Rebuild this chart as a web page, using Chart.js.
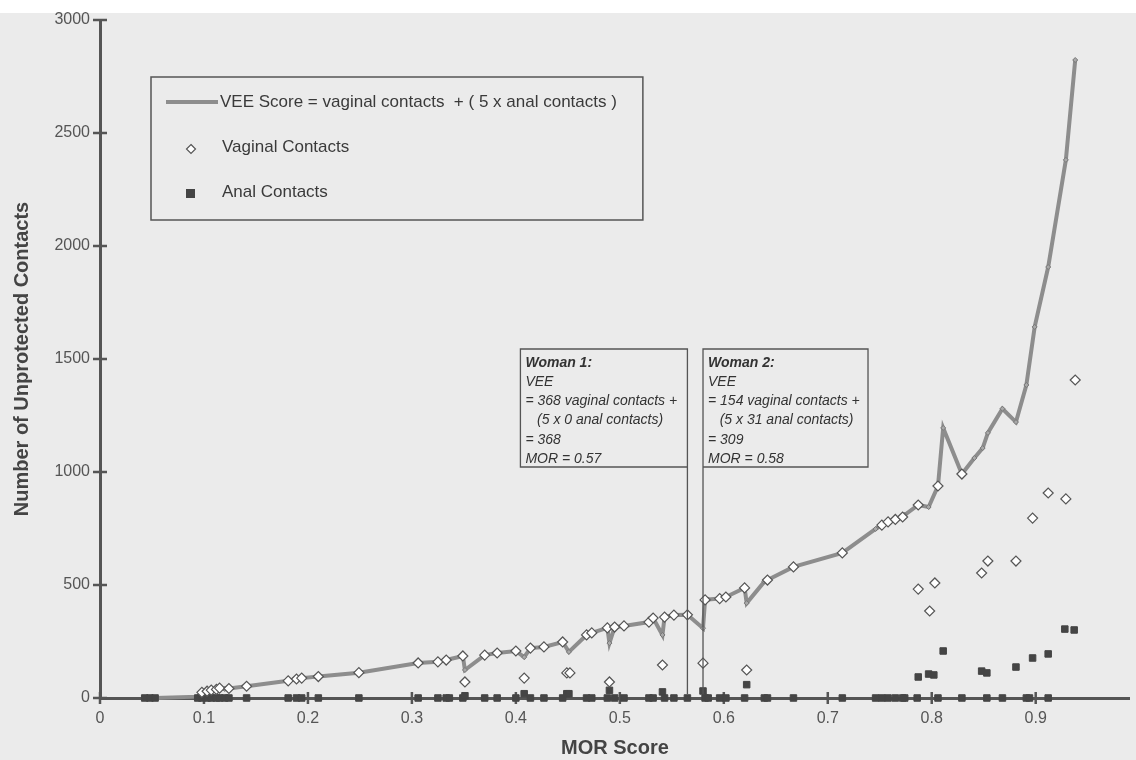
<!DOCTYPE html>
<html>
<head>
<meta charset="utf-8">
<script src="https://cdn.jsdelivr.net/npm/chart.js@4/dist/chart.umd.min.js"></script>
<style>
  html, body { margin: 0; padding: 0; background: #fff; }
  #wrap { width: 1136px; height: 760px; }
</style>
</head>
<body>
<div id="wrap"><canvas id="theChart" width="1136" height="760"></canvas></div>
<script>
'use strict';
// VEE score line (sorted by MOR score)
var veeMor = [0.053, 0.094, 0.098, 0.103, 0.107, 0.112, 0.115, 0.12, 0.124, 0.141, 0.181, 0.189, 0.194, 0.21, 0.249,
  0.306, 0.325, 0.333, 0.349, 0.351, 0.37, 0.382, 0.4, 0.408, 0.414, 0.427, 0.445, 0.451, 0.468, 0.473,
  0.488, 0.49, 0.495, 0.504, 0.528, 0.532, 0.541, 0.543, 0.552, 0.565, 0.58, 0.582, 0.585, 0.596, 0.602,
  0.62, 0.622, 0.639, 0.642, 0.667, 0.714, 0.746, 0.752, 0.758, 0.765, 0.772, 0.774, 0.787, 0.797, 0.806,
  0.811, 0.829, 0.841, 0.849, 0.854, 0.868, 0.881, 0.891, 0.899, 0.912, 0.929, 0.938];
var veeScore = [0, 6, 25, 30, 35, 38, 44, 40, 42, 52, 76, 84, 88, 95, 112,
  155, 160, 168, 186, 124, 190, 199, 208, 181, 221, 226, 248, 204, 279, 288,
  310, 243, 314, 319, 336, 354, 279, 358, 367, 368, 309, 434, 436, 440, 447,
  487, 420, 515, 522, 580, 642, 748, 765, 779, 790, 801, 810, 854, 845, 938,
  1195, 991, 1062, 1106, 1173, 1280, 1221, 1385, 1642, 1907, 2381, 2823];

// vaginal contacts (open diamonds)
var vagMor = [0.098, 0.103, 0.107, 0.112, 0.115, 0.124, 0.141, 0.181, 0.189, 0.194, 0.21, 0.249, 0.306, 0.325, 0.333,
  0.349, 0.351, 0.37, 0.382, 0.4, 0.408, 0.414, 0.427, 0.445, 0.449, 0.452, 0.468, 0.473, 0.488, 0.49,
  0.495, 0.504, 0.528, 0.532, 0.541, 0.543, 0.552, 0.565, 0.58, 0.582, 0.596, 0.602, 0.62, 0.622, 0.642,
  0.667, 0.714, 0.752, 0.758, 0.765, 0.772, 0.787, 0.787, 0.798, 0.803, 0.806, 0.829, 0.848, 0.854, 0.881,
  0.897, 0.912, 0.929, 0.938];
var vagContacts = [25, 30, 35, 38, 44, 42, 52, 76, 84, 88, 95, 112, 155, 160, 168,
  186, 71, 190, 199, 208, 88, 221, 226, 248, 111, 111, 279, 288, 310, 71,
  314, 319, 336, 354, 146, 358, 367, 368, 154, 434, 440, 447, 487, 124, 522,
  580, 642, 765, 779, 790, 801, 854, 482, 385, 509, 938, 991, 553, 606, 606,
  796, 907, 881, 1407];

// anal contacts (filled squares)
var analMor = [0.043, 0.048, 0.053, 0.094, 0.098, 0.103, 0.107, 0.112, 0.115, 0.12, 0.124, 0.141, 0.181, 0.189, 0.194,
  0.21, 0.249, 0.306, 0.325, 0.333, 0.336, 0.349, 0.351, 0.37, 0.382, 0.4, 0.408, 0.414, 0.427, 0.445,
  0.449, 0.451, 0.468, 0.473, 0.488, 0.49, 0.495, 0.504, 0.528, 0.532, 0.541, 0.543, 0.552, 0.565, 0.58,
  0.582, 0.585, 0.596, 0.602, 0.62, 0.622, 0.639, 0.642, 0.667, 0.714, 0.746, 0.752, 0.758, 0.765, 0.772,
  0.774, 0.786, 0.787, 0.797, 0.802, 0.806, 0.811, 0.829, 0.848, 0.853, 0.853, 0.868, 0.881, 0.891, 0.894,
  0.897, 0.912, 0.912, 0.928, 0.937];
var analContacts = [0, 0, 0, 0, 0, 0, 0, 0, 0, 0, 0, 0, 0, 0, 0,
  0, 0, 0, 0, 0, 0, 0, 10, 0, 0, 0, 19, 0, 0, 0,
  19, 19, 0, 0, 0, 34, 0, 0, 0, 0, 27, 0, 0, 0, 31,
  0, 0, 0, 0, 0, 59, 0, 0, 0, 0, 0, 0, 0, 0, 0,
  0, 0, 93, 106, 102, 0, 208, 0, 119, 111, 0, 0, 137, 0, 0,
  177, 195, 0, 305, 301];

var xMax = 0.9905;
var yMax = 3000;
var legendLabels = ['VEE Score = vaginal contacts  + ( 5 x anal contacts )', 'Vaginal Contacts', 'Anal Contacts'];
var woman1Text = ['VEE', '= 368 vaginal contacts +', '   (5 x 0 anal contacts)', '= 368', 'MOR = 0.57'];
var woman2Text = ['VEE', '= 154 vaginal contacts +', '   (5 x 31 anal contacts)', '= 309', 'MOR = 0.58'];
var woman1Mor = 0.565;
var woman2Mor = 0.58;

var fontFam = '"Liberation Sans", Arial, sans-serif';

function toPoints(xs, ys) {
  var pts = [];
  for (var i = 0; i < xs.length; i++) {
    pts.push({ x: xs[i], y: ys[i] });
  }
  return pts;
}

// paper background
var paperPlugin = {
  id: 'paper',
  beforeDraw: function (chart) {
    var c = chart.ctx;
    c.save();
    c.fillStyle = '#ffffff';
    c.fillRect(0, 0, chart.width, chart.height);
    c.fillStyle = '#ebebeb';
    c.fillRect(0, 13, chart.width, chart.height - 13);
    c.restore();
  }
};

// tick marks crossing the axes
var crossTicks = {
  id: 'crossTicks',
  beforeDatasetsDraw: function (chart) {
    var c = chart.ctx;
    var xs = chart.scales.x;
    var ys = chart.scales.y;
    var y0 = ys.getPixelForValue(0);
    var x0 = xs.getPixelForValue(0);
    c.save();
    c.strokeStyle = '#555';
    c.lineWidth = 2.5;
    c.beginPath();
    xs.ticks.forEach(function (t) {
      var px = xs.getPixelForValue(t.value);
      c.moveTo(px, y0 - 6);
      c.lineTo(px, y0 + 6);
    });
    ys.ticks.forEach(function (t) {
      var py = ys.getPixelForValue(t.value);
      c.moveTo(x0 - 7, py);
      c.lineTo(x0 + 7, py);
    });
    c.stroke();
    c.restore();
  }
};

function drawDiamond(c, x, y, r, fill, stroke) {
  c.beginPath();
  c.moveTo(x, y - r);
  c.lineTo(x + r, y);
  c.lineTo(x, y + r);
  c.lineTo(x - r, y);
  c.closePath();
  c.fillStyle = fill;
  c.fill();
  c.strokeStyle = stroke;
  c.lineWidth = 1.2;
  c.stroke();
}

// legend box and the two call-out boxes
var boxesPlugin = {
  id: 'boxes',
  afterDraw: function (chart) {
    var c = chart.ctx;
    var xs = chart.scales.x;
    var ys = chart.scales.y;
    c.save();
    // legend
    c.font = '17px ' + fontFam;
    c.textBaseline = 'middle';
    var textW = c.measureText(legendLabels[0]).width;
    var lx = 151, ly = 77, lh = 143;
    var lw = 220 + textW + 26 - lx;
    c.strokeStyle = '#555';
    c.lineWidth = 1.5;
    c.strokeRect(lx, ly, lw, lh);
    c.strokeStyle = '#8d8d8d';
    c.lineWidth = 4;
    c.beginPath();
    c.moveTo(166, 102);
    c.lineTo(218, 102);
    c.stroke();
    drawDiamond(c, 191, 149, 4.5, '#ffffff', '#555');
    c.fillStyle = '#444';
    c.fillRect(186, 189, 9, 9);
    c.fillStyle = '#3a3a3a';
    c.fillText(legendLabels[0], 220, 102);
    c.fillText(legendLabels[1], 222, 147);
    c.fillText(legendLabels[2], 222, 192);

    // call-outs
    var axisY = ys.getPixelForValue(0);
    var w1Right = xs.getPixelForValue(woman1Mor);
    var w2Left = xs.getPixelForValue(woman2Mor);
    var top = 349, bottom = 467;
    var b1Left = w1Right - 167;
    var b2Right = w2Left + 165;
    c.strokeStyle = '#555';
    c.lineWidth = 1.3;
    c.beginPath();
    c.moveTo(w1Right, axisY - 4);
    c.lineTo(w1Right, top);
    c.lineTo(b1Left, top);
    c.lineTo(b1Left, bottom);
    c.lineTo(w1Right, bottom);
    c.moveTo(w2Left, axisY - 4);
    c.lineTo(w2Left, top);
    c.lineTo(b2Right, top);
    c.lineTo(b2Right, bottom);
    c.lineTo(w2Left, bottom);
    c.stroke();

    c.fillStyle = '#333';
    c.textBaseline = 'middle';
    c.font = 'italic bold 14px ' + fontFam;
    c.fillText('Woman 1:', b1Left + 5, 363);
    c.fillText('Woman 2:', w2Left + 5, 363);
    c.font = 'italic 14px ' + fontFam;
    for (var i = 0; i < woman1Text.length; i++) {
      c.fillText(woman1Text[i], b1Left + 5, 382 + i * 19.3);
      c.fillText(woman2Text[i], w2Left + 5, 382 + i * 19.3);
    }
    c.restore();
  }
};

var ctx = document.getElementById('theChart').getContext('2d');
var chart = new Chart(ctx, {
  type: 'scatter',
  data: {
    datasets: [
      {
        label: 'Vaginal Contacts',
        data: toPoints(vagMor, vagContacts),
        pointStyle: 'rectRot',
        pointRadius: 5,
        pointBackgroundColor: '#ffffff',
        pointBorderColor: '#555',
        pointBorderWidth: 1.2,
        clip: false,
        order: 0
      },
      {
        label: 'Anal Contacts',
        data: toPoints(analMor, analContacts),
        pointStyle: 'rect',
        pointRadius: 4.6,
        pointBackgroundColor: '#454545',
        pointBorderColor: '#454545',
        pointBorderWidth: 1,
        clip: false,
        order: 1
      },
      {
        label: 'VEE Score',
        data: toPoints(veeMor, veeScore),
        showLine: true,
        borderColor: '#8d8d8d',
        borderWidth: 4,
        pointStyle: 'rectRot',
        pointRadius: 2.5,
        pointBackgroundColor: '#a8a8a8',
        pointBorderColor: '#777',
        pointBorderWidth: 1,
        clip: false,
        order: 2
      }
    ]
  },
  options: {
    responsive: false,
    animation: false,
    events: [],
    layout: { padding: { top: 20, right: 0, bottom: 0, left: 0 } },
    plugins: {
      legend: { display: false },
      tooltip: { enabled: false }
    },
    scales: {
      x: {
        type: 'linear',
        min: 0,
        max: xMax,
        afterFit: function (scale) { scale.height = 62; },
        ticks: {
          stepSize: 0.1,
          includeBounds: false,
          color: '#555',
          padding: 11,
          font: { size: 16, family: fontFam },
          callback: function (v) { return String(Math.round(v * 10) / 10); }
        },
        grid: { display: false, drawTicks: false },
        border: { display: true, color: '#555', width: 3 },
        title: {
          display: true,
          text: 'MOR Score',
          color: '#444',
          padding: { top: 0, bottom: 0 },
          font: { size: 20, weight: 'bold', family: fontFam }
        }
      },
      y: {
        type: 'linear',
        min: 0,
        max: yMax,
        afterFit: function (scale) { scale.width = 100; },
        ticks: {
          stepSize: 500,
          color: '#555',
          padding: 10,
          font: { size: 16, family: fontFam },
          callback: function (v) { return String(v); }
        },
        grid: { display: false, drawTicks: false },
        border: { display: true, color: '#555', width: 3 },
        title: {
          display: true,
          text: 'Number of Unprotected Contacts',
          color: '#444',
          padding: { top: 10, bottom: 0 },
          font: { size: 20, weight: 'bold', family: fontFam }
        }
      }
    }
  },
  plugins: [paperPlugin, crossTicks, boxesPlugin]
});
</script>
</body>
</html>
